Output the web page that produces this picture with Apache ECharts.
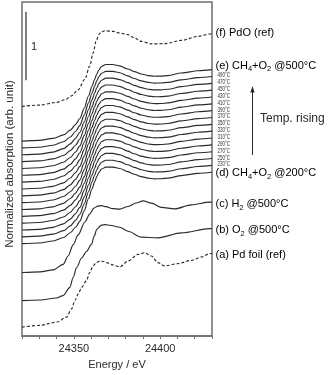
<!DOCTYPE html>
<html><head><meta charset="utf-8">
<script src="https://cdn.jsdelivr.net/npm/echarts@6/dist/echarts.min.js"></script>
<style>html,body{margin:0;padding:0;background:#fff}#c{width:328px;height:375px}</style>
</head><body><div id="c"></div>
<script>
// ---- data (energy in eV, normalized absorption in arb. units, stacked) ----
const xTickLabels = [24350, 24400];
const tempLabels = ['200','230','250','270','290','310','330','350','370','390','410','430','450','470','490','500'];
const tempOffsets = [1.35,1.45,1.55,1.65,1.75,1.85,1.95,2.05,2.15,2.25,2.35,2.45,2.55,2.65,2.75,2.85];
const tempE = [24320,24330,24338,24344,24348,24351,24353.5,24356,24358.5,24360.5,24362,24363.3,24364.5,24366,24368.5,24372.5,24376.6,24381.2,24385,24389.1,24393,24396.8,24400.5,24404.5,24412.3,24421.9,24430];
const tempShape = [0,0.01,0.039,0.09,0.16,0.24,0.33,0.48,0.66,0.8,0.9,0.98,1.04,1.09,1.12,1.12,1.1,1.054,1.015,0.981,0.958,0.948,0.95,0.958,0.996,1.029,1.045];

const pdoE = [24320,24330.3,24340,24345,24348.5,24352.5,24356.4,24359.2,24361.2,24363,24364.5,24366,24368,24372.7,24376.6,24381.4,24385,24389.1,24394.9,24402.6,24412.3,24421.9,24428.7,24430];
const pdoV = [3.358,3.377,3.416,3.455,3.51,3.6,3.754,3.947,4.141,4.32,4.41,4.45,4.464,4.454,4.43,4.406,4.36,4.309,4.271,4.275,4.323,4.381,4.416,4.42];

const h2E = [24320,24330.4,24338,24343.8,24346.7,24349.6,24352.5,24356.4,24359.2,24361.6,24363.9,24366.2,24368.5,24372.7,24376.6,24381.4,24386,24390.1,24394.9,24400.7,24408.4,24418,24428.6,24430];
const h2V = [0.928,0.938,0.967,1.048,1.17,1.333,1.478,1.667,1.783,1.87,1.899,1.906,1.891,1.862,1.855,1.894,1.945,1.975,1.942,1.88,1.859,1.917,1.957,1.96];

const o2E = [24320,24330.4,24340,24343.8,24347.7,24349.6,24351.6,24354.5,24357.3,24360.2,24361.8,24363.3,24366,24368.5,24370.8,24376.6,24381.4,24389.1,24398.7,24412.3,24428.6,24430];
const o2V = [0.517,0.526,0.555,0.59,0.71,0.855,1.0,1.14,1.235,1.34,1.46,1.56,1.622,1.628,1.619,1.59,1.532,1.445,1.435,1.507,1.57,1.572];

const foilE = [24320,24330.4,24340,24345.8,24348.7,24350.6,24352.5,24354.5,24357.3,24359.2,24361.2,24363.1,24365,24367,24369,24372.7,24376.6,24381.4,24387.2,24391,24394.9,24398.7,24402.6,24410.3,24418,24423.8,24428.6,24430];
const foilV = [0.13,0.155,0.203,0.275,0.396,0.517,0.613,0.71,0.807,0.928,1.025,1.075,1.097,1.09,1.072,1.039,1.01,1.097,1.193,1.217,1.17,1.072,1.025,1.058,1.106,1.155,1.203,1.21];

const scaleBarE = [24322.3, 24322.3];
const scaleBarV = [3.74, 4.74];
const scaleBarLabel = '1';

// ---- chart ----
const FONT = '"Liberation Sans", Arial, sans-serif';
const INK = '#2b2b2b';
const chart = echarts.init(document.getElementById('c'), null, {renderer: 'canvas'});

function pts(xs, ys, off) { return xs.map((x, i) => [x, ys[i] + (off || 0)]); }

const series = [];
function addLine(name, data, dashed) {
  series.push({
    name, type: 'line', data, showSymbol: false, smooth: 0.3, smoothMonotone: 'x',
    lineStyle: {color: INK, width: 1.15, type: dashed ? [3, 2] : 'solid'},
    silent: true, z: 3
  });
}
addLine('PdO', pts(pdoE, pdoV), true);
tempOffsets.forEach((o, i) => addLine(tempLabels[i], pts(tempE, tempShape, o), false));
addLine('H2', pts(h2E, h2V), false);
addLine('O2', pts(o2E, o2V), false);
addLine('foil', pts(foilE, foilV), true);
series.push({
  name: 'scale', type: 'line', data: pts(scaleBarE, scaleBarV), showSymbol: false,
  lineStyle: {color: INK, width: 1.2}, silent: true
});

// right-hand labels, anchored to the end of each curve
const last = a => a[a.length - 1];
const lastTemp = i => last(tempShape) + tempOffsets[i];
const rich = {
  n: {fontSize: 11, fontFamily: FONT, color: INK},
  s: {fontSize: 7.5, fontFamily: FONT, color: INK, padding: [7, 0, 0, 0]}
};
const labelItems = [
  {v: last(pdoV), dy: -1, dx: 3.5, text: '{n|(f) PdO (ref)}'},
  {v: lastTemp(15), dy: -4, dx: 3.5, text: '{n|(e) CH}{s|4}{n|+O}{s|2}{n| @500°C}'},
  {v: lastTemp(0), dy: 1, dx: 3.5, text: '{n|(d) CH}{s|4}{n|+O}{s|2}{n| @200°C}'},
  {v: last(h2V), dy: 2, dx: 3.5, text: '{n|(c) H}{s|2}{n| @500°C}'},
  {v: last(o2V), dy: 1.5, dx: 3.5, text: '{n|(b) O}{s|2}{n| @500°C}'},
  {v: last(foilV), dy: 1.7, dx: 3.5, text: '{n|(a) Pd foil (ref)}'}
];
const smallItems = [];
for (let i = 1; i <= 14; i++) smallItems.push({v: lastTemp(i), dy: -1, dx: 5.5, text: tempLabels[i] + '°C'});

series.push({
  type: 'custom', name: 'labels', silent: true, z: 5,
  data: labelItems.map(d => [24430, d.v]),
  renderItem: (params, api) => {
    const d = labelItems[params.dataIndex];
    const p = api.coord([24430, d.v]);
    return {type: 'text', x: p[0] + d.dx, y: p[1] + d.dy,
      style: {text: d.text, rich, align: 'left', verticalAlign: 'middle'}};
  }
});
series.push({
  type: 'custom', name: 'templabels', silent: true, z: 5,
  data: smallItems.map(d => [24430, d.v]),
  renderItem: (params, api) => {
    const d = smallItems[params.dataIndex];
    const p = api.coord([24430, d.v]);
    return {type: 'text', x: p[0] + d.dx, y: p[1] + d.dy, scaleX: 0.62,
      style: {text: d.text, fontSize: 7.2, fontFamily: FONT, fill: INK, align: 'left', verticalAlign: 'middle'}};
  }
});
series.push({
  type: 'custom', name: 'scalelabel', silent: true, z: 5,
  data: [[scaleBarE[0], (scaleBarV[0] + scaleBarV[1]) / 2]],
  renderItem: (params, api) => {
    const p = api.coord([scaleBarE[0], (scaleBarV[0] + scaleBarV[1]) / 2]);
    return {type: 'text', x: p[0] + 5, y: p[1] + 1,
      style: {text: scaleBarLabel, fontSize: 11, fontFamily: FONT, fill: INK, align: 'left', verticalAlign: 'middle'}};
  }
});

chart.setOption({
  animation: false,
  backgroundColor: '#fff',
  grid: {left: 22, top: 2, right: 116, bottom: 36, show: true, borderColor: '#6e6e6e', borderWidth: 1.5, containLabel: false},
  xAxis: {
    type: 'value', min: 24320, max: 24430, interval: 10,
    axisLine: {show: true, lineStyle: {color: '#6e6e6e', width: 1.5}},
    axisTick: {show: true, length: 3, inside: false, lineStyle: {color: '#6e6e6e', width: 1}},
    splitLine: {show: false},
    axisLabel: {margin: 7, fontSize: 11, fontFamily: FONT, color: INK,
      formatter: v => xTickLabels.indexOf(v) >= 0 ? String(v) : ''},
    name: 'Energy / eV', nameLocation: 'middle', nameGap: 23,
    nameTextStyle: {fontSize: 11, fontFamily: FONT, color: INK}
  },
  yAxis: {type: 'value', min: 0, max: 4.884, show: false},
  graphic: [
    {type: 'text', x: 10, y: 164, rotation: Math.PI / 2,
      style: {text: 'Normalized absorption (arb. unit)', fontSize: 11.5, fontFamily: FONT, fill: INK, align: 'center', verticalAlign: 'middle'}},
    {type: 'line', shape: {x1: 252.5, y1: 155, x2: 252.5, y2: 91}, style: {stroke: INK, lineWidth: 1}},
    {type: 'polygon', shape: {points: [[252.5, 86], [250.3, 92.5], [254.7, 92.5]]}, style: {fill: INK}},
    {type: 'text', x: 260, y: 118.5,
      style: {text: 'Temp. rising', fontSize: 12, fontFamily: FONT, fill: INK, align: 'left', verticalAlign: 'middle'}}
  ],
  series
});
</script></body></html>
